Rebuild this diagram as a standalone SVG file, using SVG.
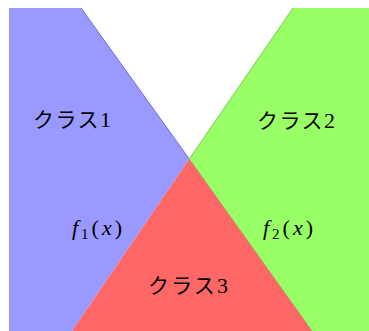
<svg xmlns="http://www.w3.org/2000/svg" width="369" height="331" viewBox="0 0 369 331">
<style>
.jp{font-family:"Noto Sans CJK JP","Noto Sans",sans-serif;font-size:21px;fill:#000}
.num{font-family:"Liberation Serif",serif;font-size:22px}
.math{font-family:"Liberation Serif",serif;font-size:22px;fill:#000}
.it{font-style:italic}
.sub{font-size:15px}
</style>
<rect width="369" height="331" fill="#ffffff"/>
<g id="region-blue">
<polygon points="9,8 81,8 189.3,159 72,331 9,331" fill="#9999ff"/>
<line x1="81" y1="8" x2="189.3" y2="159" stroke="#6f6fd6" stroke-width="1"/>
</g>
<g id="region-green">
<polygon points="293,8 369,8 369,331 312,331 189.3,159" fill="#99ff66"/>
<polyline points="293,8 189.3,159 312,331" fill="none" stroke="#77cc4e" stroke-width="1"/>
</g>
<g id="region-red">
<polygon points="189.3,159 72,331 312,331" fill="#ff6666"/>
</g>
<g id="labels">
<text class="jp" x="33" y="127" textLength="78" lengthAdjust="spacing">クラス<tspan class="num">1</tspan></text>
<text class="jp" x="257" y="128" textLength="78" lengthAdjust="spacing">クラス<tspan class="num">2</tspan></text>
<text class="jp" x="148" y="293" textLength="80" lengthAdjust="spacing">クラス<tspan class="num">3</tspan></text>
<text class="math" x="72" y="235" textLength="50" lengthAdjust="spacing"><tspan class="it">f</tspan><tspan class="sub" dy="4">1</tspan><tspan dy="-4">(</tspan><tspan class="it">x</tspan>)</text>
<text class="math" x="263" y="235" textLength="50" lengthAdjust="spacing"><tspan class="it">f</tspan><tspan class="sub" dy="4">2</tspan><tspan dy="-4">(</tspan><tspan class="it">x</tspan>)</text>
</g>
</svg>
